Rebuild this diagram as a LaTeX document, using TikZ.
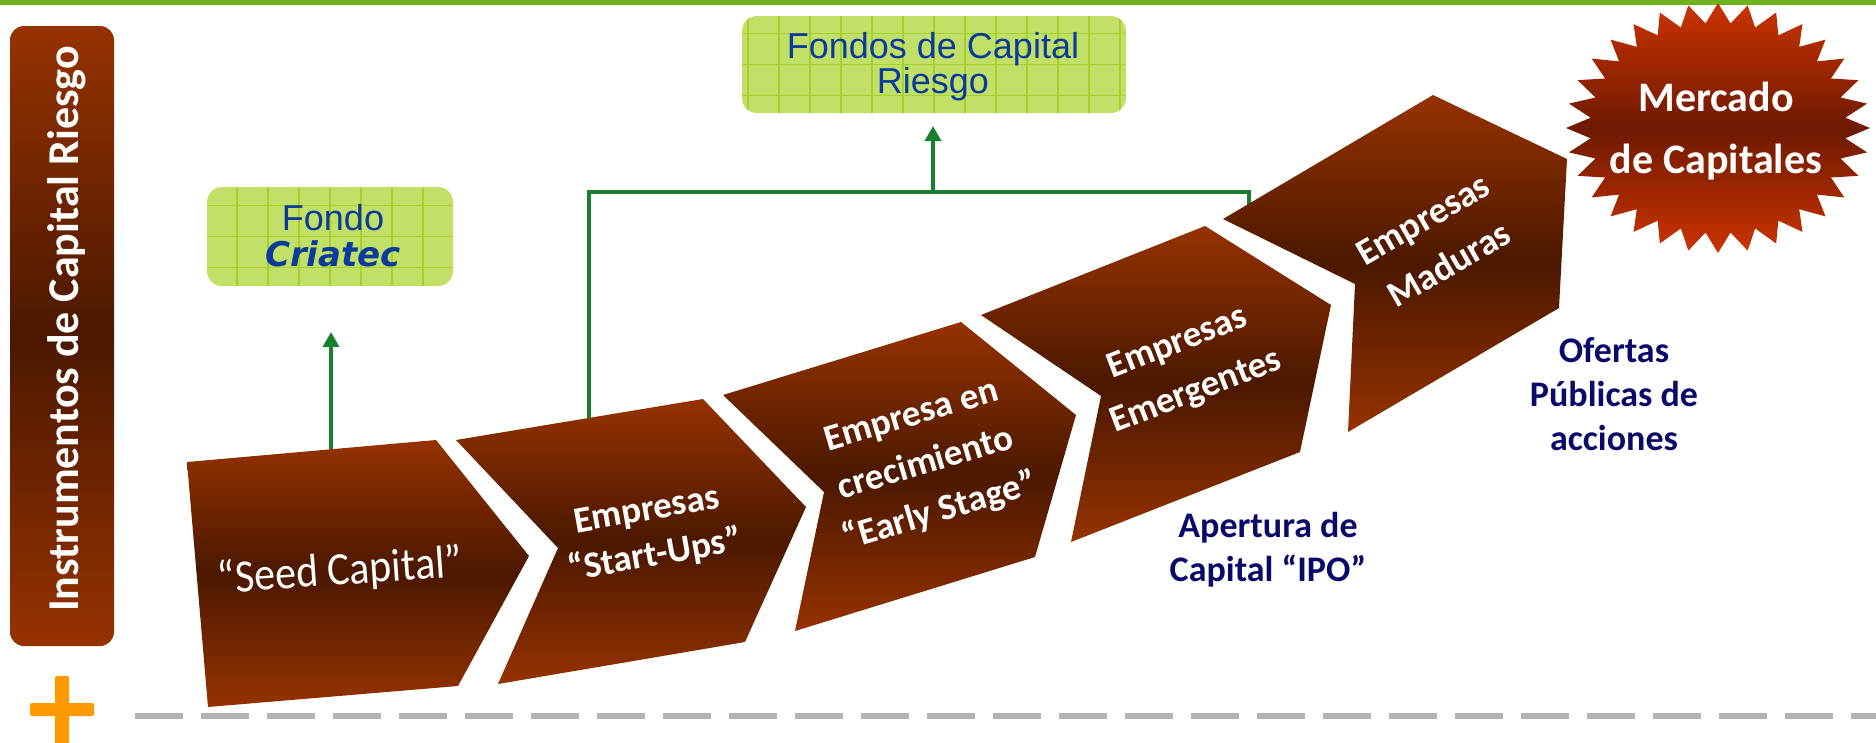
\documentclass[tikz,border=0pt]{standalone}
\usepackage{fontspec}
\setmainfont{Carlito}
\newfontfamily\boxfont{Liberation Sans}
\newfontfamily\criafont{DejaVu Sans}
\usetikzlibrary{arrows.meta,calc}
\definecolor{org}{HTML}{963200}
\definecolor{drk}{HTML}{4B1800}
\definecolor{bred}{HTML}{CC3300}
\definecolor{bdrk}{HTML}{6E1A02}
\definecolor{glinec}{HTML}{1A7F2E}
\definecolor{gfill}{HTML}{C2E068}
\definecolor{ggrid}{HTML}{A6D12A}
\definecolor{bluet}{HTML}{0A3A9C}
\definecolor{navyt}{HTML}{0A0A6A}
\definecolor{topg}{HTML}{6DB31F}
\definecolor{dashg}{HTML}{B3B3B3}
\definecolor{plusor}{HTML}{FF9900}
\begin{document}
\begin{tikzpicture}[x=1pt,y=-1pt,
  stage/.style={top color=org,bottom color=org,middle color=drk},
  gbox/.style={rounded corners=15pt, fill=gfill, text=bluet, align=center, inner sep=0pt,
    path picture={\draw[ggrid, line width=1.2pt] ([xshift=-6pt]path picture bounding box.south west) grid[step=31pt] (path picture bounding box.north east);}},
  gline/.style={draw=glinec, line width=3.5pt, line join=miter},
  garrow/.style={gline, -{Triangle[width=16pt,length=15pt]}},
  wtxt/.style={align=center, inner sep=0pt, text=white, font=\fontsize{37pt}{#1}\selectfont\bfseries},
  navytxt/.style={align=center, inner sep=0pt, text=navyt, font=\fontsize{36pt}{#1}\selectfont\bfseries}
]
\useasboundingbox (0,0) rectangle (1876,742);
% top stripe
\fill[topg] (0,0) rectangle (1876,5);
% baseline dashed line and plus
\coordinate (dl1) at (135,716);
\coordinate (dl2) at (1876,716);
\draw[dashg, line width=6pt, dash pattern=on 48pt off 18pt] (dl1) -- (dl2);
\fill[plusor, rounded corners=2pt] (30,703) rectangle (94,716);
\fill[plusor, rounded corners=2pt] (55,676) rectangle (69,745);
% left bar
\node[top color=org,bottom color=org,middle color=drk, rounded corners=14pt,
  minimum width=104pt, minimum height=620pt, inner sep=0pt] (bar) at (62,336) {};
\node[rotate=90, anchor=base, inner sep=0pt, text=white, font=\fontsize{44pt}{50pt}\selectfont\bfseries] (bartext) at (78,329) {Instrumentos de Capital Riesgo};
% green boxes
\node[gbox, minimum width=246pt, minimum height=99pt] (criatec) at (330,236.5) {};
\node[text=bluet, align=center, inner sep=0pt, font=\boxfont\fontsize{36pt}{36pt}\selectfont] (criatext) at (333,236) {Fondo\\{\criafont\fontsize{34pt}{36pt}\selectfont\bfseries\itshape Criatec}};
\node[gbox, minimum width=384pt, minimum height=97pt] (fondos) at (934,64.5) {};
\node[text=bluet, align=center, inner sep=0pt, font=\boxfont\fontsize{36pt}{35pt}\selectfont] (fondostext) at (933,67) {Fondos de Capital\\Riesgo};
% connectors
\coordinate (c1) at (331,452);
\coordinate (a1) at (331,332);
\coordinate (c2) at (589,421);
\coordinate (j1) at (933,192);
\coordinate (c3) at (1249,215);
\coordinate (a2) at (933,126);
\draw[garrow] (c1) -- (a1);
\draw[gline] (c2) |- (j1) -| (c3);
\draw[garrow] (j1) -- (a2);
% stages
\shade[stage] (187,462) -- (436,440) -- (529,556) -- (458,686) -- (208,707) -- cycle;
\shade[stage] (456,440) -- (703,399) -- (806,507) -- (745,642) -- (498,684) -- (558,548) -- cycle;
\shade[stage] (723,395) -- (961,322) -- (1076,415) -- (1035,557) -- (795,631) -- (824,492) -- cycle;
\shade[stage] (981,315) -- (1205,226) -- (1331,305) -- (1300,452) -- (1071,542) -- (1101,396) -- cycle;
\shade[stage] (1223,219) -- (1433,95) -- (1567,159) -- (1559,308) -- (1348,432) -- (1355,284) -- cycle;
% stage texts
\node[rotate=4, yscale=1.1, align=center, inner sep=0pt, text=white, font=\fontsize{42pt}{50pt}\selectfont] (seed) at (340,572) {“Seed Capital”};
\node[rotate=10, wtxt=46pt] (startups) at (651,534) {Empresas\\“Start-Ups”};
\node[rotate=16.5, wtxt=50pt] (early) at (926,465) {Empresa en\\crecimiento\\“Early Stage”};
\node[rotate=21, wtxt=52pt] (emerg) at (1187,368) {Empresas\\Emergentes};
\node[rotate=30, wtxt=52pt] (madur) at (1436,242) {Empresas\\Maduras};
% starburst
\shade[top color=bred, bottom color=bred, middle color=bdrk]
  plot[variable=\k, samples at={0,...,63}]
  ({1718+cos(90+\k*5.625)*(152-24*mod(\k,2))}, {128-sin(90+\k*5.625)*(125-20*mod(\k,2))}) -- cycle;
\node[align=center, inner sep=0pt, text=white, font=\fontsize{42pt}{62pt}\selectfont\bfseries] (mercado) at (1716,131) {Mercado\\de Capitales};
% navy labels
\node[navytxt=44pt] (ipo) at (1268,550) {Apertura de\\Capital “IPO”};
\node[navytxt=44pt] (ofertas) at (1614,394) {Ofertas\\Públicas de\\acciones};
\end{tikzpicture}
\end{document}
